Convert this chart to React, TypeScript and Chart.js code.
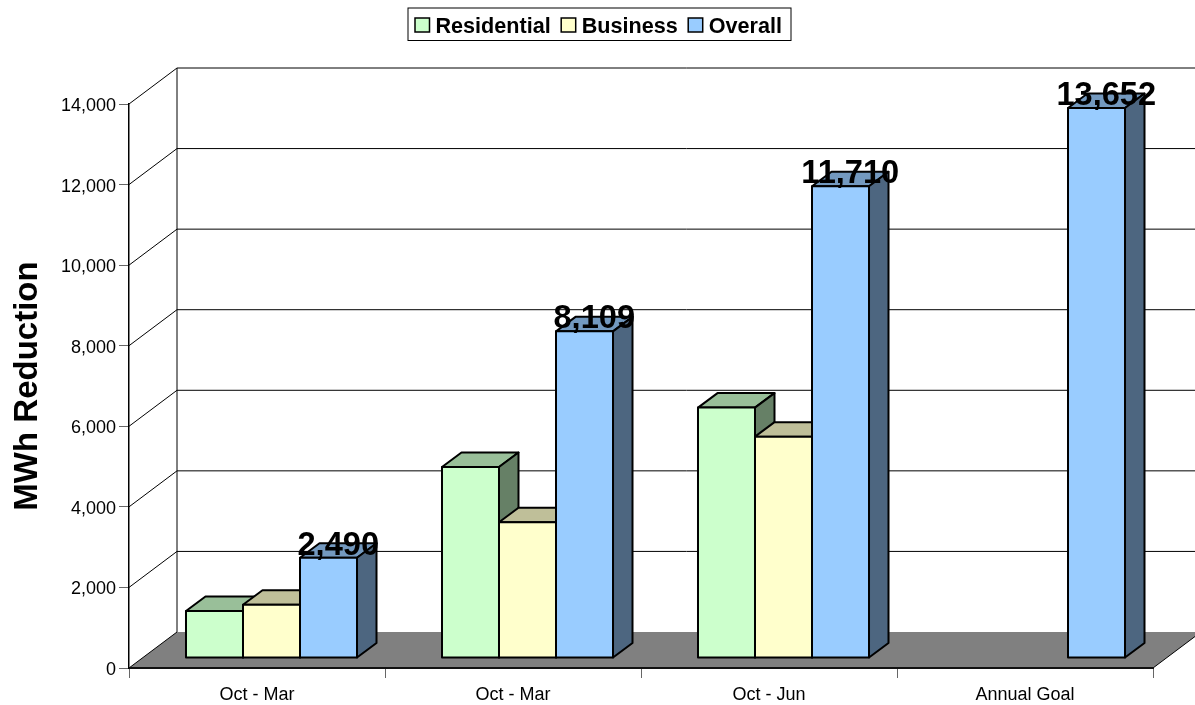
import React, { useEffect, useRef } from "react";
import { Chart, registerables } from "chart.js";

Chart.register(...registerables);

const categories = ["Oct - Mar", "Oct - Mar", "Oct - Jun", "Annual Goal"];
const residential = [1167, 4740, 6215, null];
const business = [1323, 3369, 5495, null];
const overall = [2490, 8109, 11710, 13652];
const seriesNames = ["Residential", "Business", "Overall"];
const frontColors = ["#CCFFCC", "#FFFFCC", "#99CCFF"];
const topColors = ["#99BF99", "#BFBF99", "#7399BF"];
const sideColors = ["#668066", "#808066", "#4D6680"];
const axisFont = "Liberation Sans, Arial, sans-serif";

// Extrusion of the floor and walls, and placement of the bars inside that depth.
const ROOM_DX = 48;
const ROOM_DY = 36;
const BAR_SHIFT_X = 14.5;
const BAR_SHIFT_Y = 10;
const BAR_DX = 19.5;
const BAR_DY = 14.5;

function polygon(ctx: CanvasRenderingContext2D, pts: number[][], fill: string) {
  ctx.beginPath();
  pts.forEach(([x, y], i) => (i ? ctx.lineTo(x, y) : ctx.moveTo(x, y)));
  ctx.closePath();
  ctx.fillStyle = fill;
  ctx.fill();
  ctx.strokeStyle = "#000";
  ctx.lineWidth = 2;
  ctx.lineJoin = "round";
  ctx.stroke();
}

// Floor, back wall and the gridlines that wrap around the left wall.
const roomPlugin = {
  id: "room",
  beforeDraw(chart: any) {
    const { ctx, chartArea: a, scales } = chart;
    const y = scales.y;
    ctx.save();
    ctx.fillStyle = "#808080";
    ctx.beginPath();
    ctx.moveTo(a.left, a.bottom);
    ctx.lineTo(a.right, a.bottom);
    ctx.lineTo(a.right + ROOM_DX, a.bottom - ROOM_DY);
    ctx.lineTo(a.left + ROOM_DX, a.bottom - ROOM_DY);
    ctx.closePath();
    ctx.fill();

    ctx.strokeStyle = "#000";
    ctx.lineWidth = 1;
    y.ticks.forEach((t: any) => {
      const py = y.getPixelForValue(t.value);
      ctx.beginPath();
      ctx.moveTo(a.left, py);
      ctx.lineTo(a.left + ROOM_DX, py - ROOM_DY);
      if (t.value !== 0) ctx.lineTo(a.right + ROOM_DX, py - ROOM_DY);
      ctx.stroke();
    });
    // Back left corner of the room
    ctx.beginPath();
    ctx.moveTo(a.left + ROOM_DX, a.bottom - ROOM_DY);
    ctx.lineTo(a.left + ROOM_DX, a.top - ROOM_DY);
    ctx.stroke();
    // Right edge of the floor
    ctx.beginPath();
    ctx.moveTo(a.right, a.bottom);
    ctx.lineTo(a.right + ROOM_DX, a.bottom - ROOM_DY);
    ctx.stroke();
    ctx.restore();
  },
};

// Paints the series left to right so each bar hides the side face of the one
// before it, adding a top face, side face and outline, set back inside the room.
const extrudePlugin = {
  id: "extrude",
  beforeDatasetDraw() {
    return false;
  },
  afterDatasetsDraw(chart: any) {
    const { ctx } = chart;
    chart.data.datasets.forEach((dataset: any, i: number) => {
      const meta = chart.getDatasetMeta(i);
      const bars = meta.data
        .map((bar: any, n: number) => ({ bar, value: dataset.data[n] }))
        .filter((b: any) => b.value != null)
        .map((b: any) => b.bar.getProps(["x", "y", "base", "width"]));
      ctx.save();
      ctx.translate(BAR_SHIFT_X, -BAR_SHIFT_Y);
      bars.forEach(({ x, y, base, width }: any) => {
        const l = x - width / 2;
        const r = x + width / 2;
        polygon(ctx, [[l, y], [l + BAR_DX, y - BAR_DY], [r + BAR_DX, y - BAR_DY], [r, y]], topColors[i]);
        polygon(ctx, [[r, y], [r + BAR_DX, y - BAR_DY], [r + BAR_DX, base - BAR_DY], [r, base]], sideColors[i]);
      });
      meta.controller.draw();
      ctx.strokeStyle = "#000";
      ctx.lineWidth = 2;
      bars.forEach(({ x, y, base, width }: any) => {
        ctx.strokeRect(x - width / 2, y, width, base - y);
      });
      ctx.restore();
    });
  },
};

// Totals written over the Overall bars, and the framed legend above the chart.
const annotationPlugin = {
  id: "annotations",
  afterDatasetsDraw(chart: any) {
    const { ctx } = chart;
    const index = chart.data.datasets.length - 1;
    const meta = chart.getDatasetMeta(index);
    ctx.save();
    ctx.font = `bold 32.6px ${axisFont}`;
    ctx.textAlign = "center";
    ctx.textBaseline = "alphabetic";
    ctx.fillStyle = "#000";
    meta.data.forEach((bar: any, n: number) => {
      const { x, y } = bar.getProps(["x", "y"]);
      ctx.fillText(
        overall[n].toLocaleString("en-US"),
        x + BAR_SHIFT_X + BAR_DX / 2,
        y - BAR_SHIFT_Y - 3
      );
    });
    ctx.restore();
  },
  afterDraw(chart: any) {
    const { ctx } = chart;
    ctx.save();
    ctx.fillStyle = "#fff";
    ctx.strokeStyle = "#000";
    ctx.lineWidth = 1;
    ctx.fillRect(408, 8, 383, 32.5);
    ctx.strokeRect(408, 8, 383, 32.5);
    ctx.font = `bold 21.6px ${axisFont}`;
    ctx.textBaseline = "alphabetic";
    let x = 415;
    seriesNames.forEach((name, i) => {
      ctx.fillStyle = frontColors[i];
      ctx.fillRect(x, 18, 14.5, 14);
      ctx.lineWidth = 1.5;
      ctx.strokeStyle = "#000";
      ctx.strokeRect(x, 18, 14.5, 14);
      ctx.fillStyle = "#000";
      ctx.fillText(name, x + 20.5, 32.5);
      x += 20.5 + ctx.measureText(name).width + 10.5;
    });
    ctx.restore();
  },
};

export default function App() {
  const canvasRef = useRef<HTMLCanvasElement | null>(null);

  useEffect(() => {
    const chart = new Chart(canvasRef.current as HTMLCanvasElement, {
      type: "bar",
      data: {
        labels: categories,
        datasets: [residential, business, overall].map((data, i) => ({
          label: seriesNames[i],
          data,
          backgroundColor: frontColors[i],
          borderWidth: 0,
          barPercentage: 1,
          categoryPercentage: 0.668,
        })),
      },
      options: {
        responsive: false,
        animation: false,
        layout: { padding: { top: 104, right: 42, left: 0, bottom: 0 } },
        plugins: { legend: { display: false }, tooltip: { enabled: false } },
        scales: {
          x: {
            afterFit(scale: any) {
              scale.height = 37;
            },
            grid: {
              drawOnChartArea: false,
              drawTicks: true,
              tickLength: 10,
              color: "#666",
            },
            border: { color: "#111", width: 2 },
            ticks: {
              color: "#000",
              padding: 6,
              maxRotation: 0,
              font: { family: axisFont, size: 18 },
            },
          },
          y: {
            min: 0,
            max: 14000,
            afterFit(scale: any) {
              scale.width = 129;
            },
            title: {
              display: true,
              text: "MWh Reduction",
              color: "#000",
              padding: { top: 8, bottom: 0 },
              font: { family: axisFont, size: 33, weight: "bold" },
            },
            grid: {
              drawOnChartArea: false,
              drawTicks: true,
              tickLength: 10,
              color: "#666",
            },
            border: { color: "#000", width: 1.5 },
            ticks: {
              stepSize: 2000,
              color: "#000",
              padding: 3,
              labelOffset: 2,
              font: { family: axisFont, size: 18 },
              callback: (v: any) => Number(v).toLocaleString("en-US"),
            },
          },
        },
      },
      plugins: [roomPlugin, extrudePlugin, annotationPlugin],
    } as any);
    return () => chart.destroy();
  }, []);

  return (
    <div style={{ position: "absolute", left: 0, top: 0, width: 1195, height: 705, overflow: "hidden", background: "#fff" }}>
      <canvas ref={canvasRef} width={1195} height={705} style={{ display: "block" }} />
    </div>
  );
}
